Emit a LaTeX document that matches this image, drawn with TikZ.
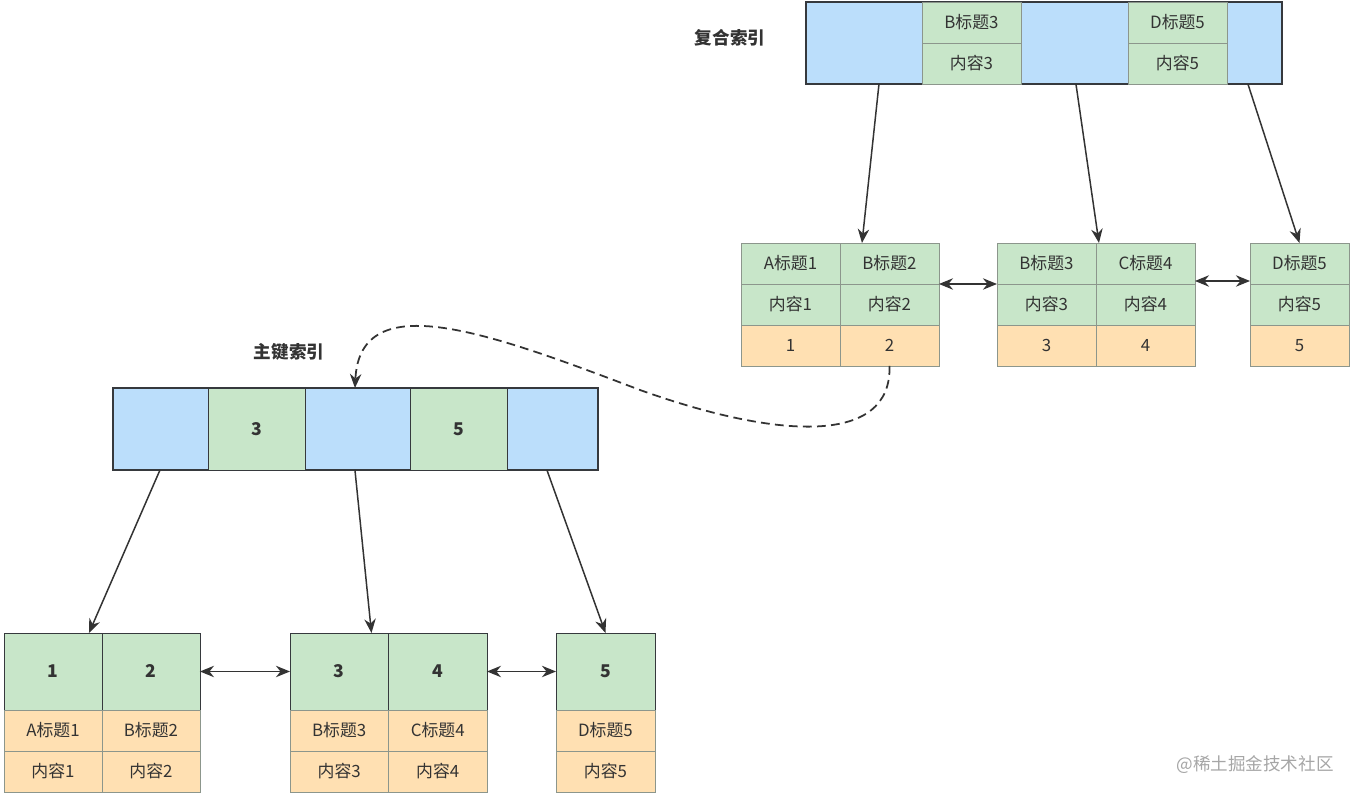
\documentclass[tikz,border=0pt]{standalone}
\usepackage{fontspec}
\setmainfont{Noto Sans CJK SC}
\usetikzlibrary{positioning,arrows.meta}

\definecolor{idxblue}{HTML}{BBDEFB}
\definecolor{keygreen}{HTML}{C8E6C9}
\definecolor{roworange}{HTML}{FFE0B2}
\definecolor{linedark}{HTML}{36393D}
\definecolor{linegray}{HTML}{8C968C}
\definecolor{txt}{HTML}{333333}

\tikzset{
  bar/.style={draw=linedark, fill=idxblue, minimum height=1.64cm,
    inner sep=0pt, outer sep=0pt, anchor=north west, line width=0.7pt},
  gcell/.style={draw=linegray, fill=keygreen, minimum width=1.98cm,
    minimum height=0.82cm, inner sep=0pt, outer sep=0pt, text=txt},
  ocell/.style={gcell, fill=roworange},
  bigkey/.style={gcell, draw=linedark, minimum height=1.54cm, font=\bfseries},
  link/.style={-{Stealth[length=8pt,width=6.5pt]}, draw=txt, line width=0.85pt},
  twoway/.style={{Stealth[length=8pt,width=6.5pt]}-{Stealth[length=8pt,width=6.5pt]},
    draw=txt, line width=0.85pt}
}

\begin{document}
\begin{tikzpicture}[x=0.02cm,y=-0.02cm,font=\fontsize{9.6}{11}\selectfont]
\useasboundingbox[fill=white] (0,0) rectangle (1357,797);

% ---- Composite index ----
\node[font=\bfseries, text=txt] (ctitle) at (730,38) {复合索引};
\node[bar, minimum width=9.52cm] (cidx) at (806,2) {};
\node[gcell, anchor=north west] (cb3) at (922,2) {B标题3};
\node[gcell, below=0pt of cb3] (cc3) {内容3};
\node[gcell, anchor=north west] (cd5) at (1128,2) {D标题5};
\node[gcell, below=0pt of cd5] (cc5) {内容5};

% Leaf 1
\node[gcell, anchor=north west] (la1) at (741,243) {A标题1};
\node[gcell, right=0pt of la1] (la2) {B标题2};
\node[gcell, below=0pt of la1] (lm1) {内容1};
\node[gcell, below=0pt of la2] (lm2) {内容2};
\node[ocell, below=0pt of lm1] (lr1) {1};
\node[ocell, below=0pt of lm2] (lr2) {2};

% Leaf 2
\node[gcell, anchor=north west] (lb1) at (997,243) {B标题3};
\node[gcell, right=0pt of lb1] (lb2) {C标题4};
\node[gcell, below=0pt of lb1] (lm3) {内容3};
\node[gcell, below=0pt of lb2] (lm4) {内容4};
\node[ocell, below=0pt of lm3] (lr3) {3};
\node[ocell, below=0pt of lm4] (lr4) {4};

% Leaf 3
\node[gcell, anchor=north west] (lc1) at (1250,243) {D标题5};
\node[gcell, below=0pt of lc1] (lm5) {内容5};
\node[ocell, below=0pt of lm5] (lr5) {5};

% Arrows
\draw[link] ([xshift=1.46cm]cidx.south west) -- ([xshift=0.44cm]la2.north west);
\draw[link] ([xshift=5.4cm]cidx.south west) -- ([xshift=0.06cm]lb2.north west);
\draw[link] ([xshift=8.84cm]cidx.south west) -- (lc1.north);
\draw[twoway] (la2.south east) -- (lb1.south west);
\draw[twoway] ([yshift=0.06cm]lb2.south east) -- ([yshift=0.06cm]lc1.south west);

% ---- Primary key index ----
\node[font=\bfseries, text=txt] (ptitle) at (289,352) {主键索引};
\node[bar, minimum width=9.7cm] (pidx) at (113,388) {};
\node[gcell, draw=linedark, minimum width=1.94cm, minimum height=1.64cm,
  font=\bfseries, anchor=north west] (p3) at (208,388) {3};
\node[gcell, draw=linedark, minimum width=1.94cm, minimum height=1.64cm,
  font=\bfseries, anchor=north west] (p5) at (410,388) {5};

% Back to primary index
\draw[link, dash pattern=on 5pt off 3pt, line width=1pt]
  (lr2.south) .. controls (892,445) and (780,440) .. (640,390)
  .. controls (490,333) and (360,285) .. ([xshift=4.84cm]pidx.north west);

% Leaf 1
\node[bigkey, minimum width=1.96cm, anchor=north west] (ka1) at (4,633) {1};
\node[bigkey, minimum width=1.96cm, right=0pt of ka1] (ka2) {2};
\node[ocell, minimum width=1.96cm, below=0pt of ka1] (kt1) {A标题1};
\node[ocell, minimum width=1.96cm, below=0pt of ka2] (kt2) {B标题2};
\node[ocell, minimum width=1.96cm, below=0pt of kt1] (kn1) {内容1};
\node[ocell, minimum width=1.96cm, below=0pt of kt2] (kn2) {内容2};

% Leaf 2
\node[bigkey, minimum width=1.97cm, anchor=north west] (kb1) at (290,633) {3};
\node[bigkey, minimum width=1.97cm, right=0pt of kb1] (kb2) {4};
\node[ocell, minimum width=1.97cm, below=0pt of kb1] (kt3) {B标题3};
\node[ocell, minimum width=1.97cm, below=0pt of kb2] (kt4) {C标题4};
\node[ocell, minimum width=1.97cm, below=0pt of kt3] (kn3) {内容3};
\node[ocell, minimum width=1.97cm, below=0pt of kt4] (kn4) {内容4};

% Leaf 3
\node[bigkey, anchor=north west] (kc1) at (556,633) {5};
\node[ocell, below=0pt of kc1] (kt5) {D标题5};
\node[ocell, below=0pt of kt5] (kn5) {内容5};

% Arrows
\draw[link] ([xshift=0.94cm]pidx.south west) -- ([xshift=-0.26cm]ka1.north east);
\draw[link] ([xshift=4.84cm]pidx.south west) -- ([xshift=-0.34cm]kb1.north east);
\draw[link] ([xshift=8.68cm]pidx.south west) -- (kc1.north);
\draw[twoway] (ka2.east) -- (kb1.west);
\draw[twoway] (kb2.east) -- (kc1.west);

% Watermark
\node[text=black!35, font=\fontsize{10}{12}\selectfont] (mark) at (1255,765) {@稀土掘金技术社区};

\end{tikzpicture}
\end{document}
